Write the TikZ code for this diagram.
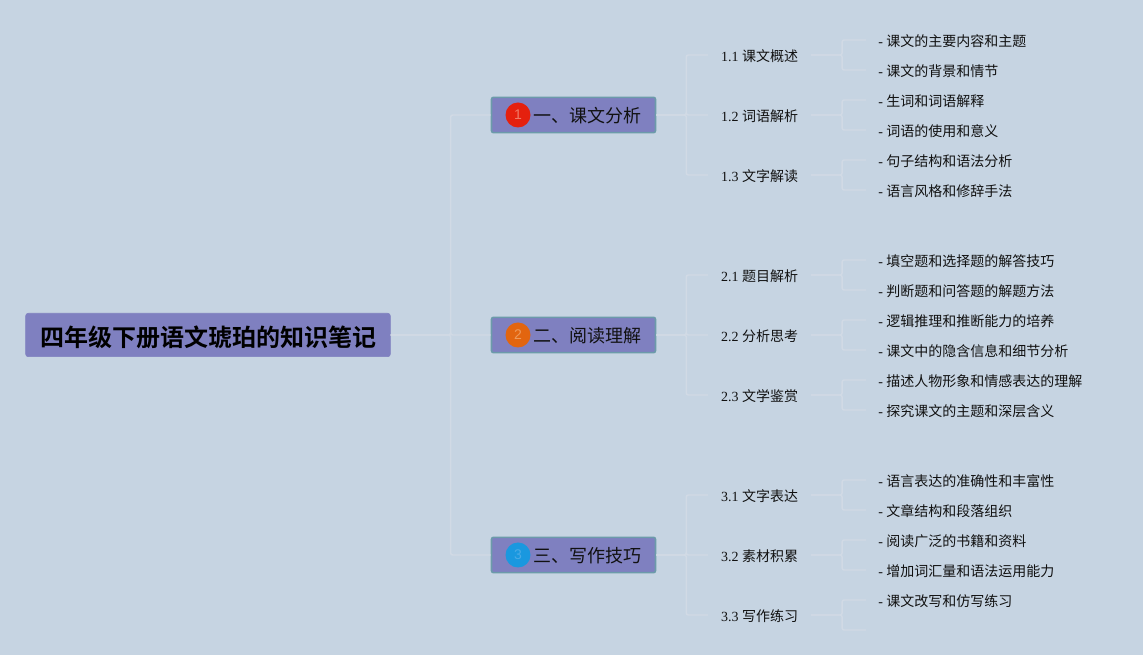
\documentclass[tikz,border=0pt]{standalone}
\usepackage{fontspec}
\setmainfont{Liberation Serif}
\newfontfamily\cjk{Noto Sans CJK SC}
\newfontfamily\cjkb{Noto Sans CJK SC Bold}
\newfontfamily\numf{Liberation Sans}
\definecolor{bgc}{HTML}{C6D4E2}
\definecolor{boxc}{HTML}{7F80C0}
\definecolor{edgec}{HTML}{6C9BAA}
\definecolor{linec}{HTML}{D1DAE5}
\definecolor{inkc}{HTML}{111111}
\definecolor{bred}{HTML}{E5200E}
\definecolor{bredt}{HTML}{F07A68}
\definecolor{borg}{HTML}{E2650F}
\definecolor{borgt}{HTML}{EE9A5A}
\definecolor{bblu}{HTML}{1A98DF}
\definecolor{bblut}{HTML}{4AAAE6}
\tikzset{
  x=0.75pt,y=-0.75pt,
  rootbox/.style={draw=boxc,line width=0.5pt,fill=boxc,rounded corners=2pt,minimum width=273.5pt,minimum height=32.5pt,inner sep=0pt},
  roottext/.style={inner sep=0pt,font=\fontsize{18}{22}\cjkb,text=black},
  midbox/.style={draw=edgec,line width=1.2pt,fill=boxc,rounded corners=1.5pt,minimum width=123pt,minimum height=26.5pt,inner sep=0pt},
  midtext/.style={anchor=west,inner sep=0pt,font=\fontsize{13.5}{16}\cjk,text=inkc},
  badge/.style={circle,minimum size=18.75pt,inner sep=0pt,font=\fontsize{10.5}{12}\numf},
  subnode/.style={anchor=west,inner xsep=9.6pt,inner ysep=2pt,text height=10.7pt,text depth=1.26pt,font=\fontsize{10.5}{13}\selectfont,text=inkc},
  leafnode/.style={subnode,inner xsep=9pt},
  link/.style={draw=linec,line width=1.1pt,rounded corners=1.5pt},
  branch/.style={link,to path={-- ++(#1,0) |- (\tikztotarget)}},
  branch/.default=30
}
\newcommand{\cj}[1]{{\cjk #1}}
\begin{document}
\begin{tikzpicture}
\useasboundingbox[fill=bgc] (0,0) rectangle (1143,655);
% root and main nodes
\node[rootbox] (root) at (208,335) {};
\node[midbox] (m1) at (573.5,115) {};
\node[midbox] (m2) at (573.5,335) {};
\node[midbox] (m3) at (573.5,555) {};
% sub nodes
\node[subnode] (s11) at (708,55) {1.1 \cj{课文概述}};
\node[subnode] (s12) at (708,115) {1.2 \cj{词语解析}};
\node[subnode] (s13) at (708,175) {1.3 \cj{文字解读}};
\node[subnode] (s21) at (708,275) {2.1 \cj{题目解析}};
\node[subnode] (s22) at (708,335) {2.2 \cj{分析思考}};
\node[subnode] (s23) at (708,395) {2.3 \cj{文学鉴赏}};
\node[subnode] (s31) at (708,495) {3.1 \cj{文字表达}};
\node[subnode] (s32) at (708,555) {3.2 \cj{素材积累}};
\node[subnode] (s33) at (708,615) {3.3 \cj{写作练习}};
% leaves
\node[leafnode] (l1) at (866,40) {- \cj{课文的主要内容和主题}};
\node[leafnode] (l2) at (866,70) {- \cj{课文的背景和情节}};
\node[leafnode] (l3) at (866,100) {- \cj{生词和词语解释}};
\node[leafnode] (l4) at (866,130) {- \cj{词语的使用和意义}};
\node[leafnode] (l5) at (866,160) {- \cj{句子结构和语法分析}};
\node[leafnode] (l6) at (866,190) {- \cj{语言风格和修辞手法}};
\node[leafnode] (l7) at (866,260) {- \cj{填空题和选择题的解答技巧}};
\node[leafnode] (l8) at (866,290) {- \cj{判断题和问答题的解题方法}};
\node[leafnode] (l9) at (866,320) {- \cj{逻辑推理和推断能力的培养}};
\node[leafnode] (l10) at (866,350) {- \cj{课文中的隐含信息和细节分析}};
\node[leafnode] (l11) at (866,380) {- \cj{描述人物形象和情感表达的理解}};
\node[leafnode] (l12) at (866,410) {- \cj{探究课文的主题和深层含义}};
\node[leafnode] (l13) at (866,480) {- \cj{语言表达的准确性和丰富性}};
\node[leafnode] (l14) at (866,510) {- \cj{文章结构和段落组织}};
\node[leafnode] (l15) at (866,540) {- \cj{阅读广泛的书籍和资料}};
\node[leafnode] (l16) at (866,570) {- \cj{增加词汇量和语法运用能力}};
\node[leafnode] (l17) at (866,600) {- \cj{课文改写和仿写练习}};
\coordinate (l18) at (866,630);
% connectors
\foreach \a/\b in {root/m1,root/m2,root/m3}
  \draw[branch=60] (\a.east) to (\b.west);
\foreach \a/\b in {m1/s11,m1/s12,m1/s13,m2/s21,m2/s22,m2/s23,m3/s31,m3/s32,m3/s33}
  \draw[branch=30] (\a.east) to (\b.west);
\foreach \a/\b in {s11/l1,s11/l2,s12/l3,s12/l4,s13/l5,s13/l6,s21/l7,s21/l8,s22/l9,s22/l10,s23/l11,s23/l12,s31/l13,s31/l14,s32/l15,s32/l16,s33/l17}
  \draw[branch=31] (\a.east) to (\b.west);
\draw[branch=31] (s33.east) to (l18);
% labels and badges
\node[roottext] (t0) at (208.5,337) {四年级下册语文琥珀的知识笔记};
\node[badge,fill=bred,text=bredt] (b1) at (518,115) {1};
\node[badge,fill=borg,text=borgt] (b2) at (518,335) {2};
\node[badge,fill=bblu,text=bblut] (b3) at (518,555) {3};
\node[midtext] (t1) at (533,116) {一、课文分析};
\node[midtext] (t2) at (533,336) {二、阅读理解};
\node[midtext] (t3) at (533,556) {三、写作技巧};
\end{tikzpicture}
\end{document}
